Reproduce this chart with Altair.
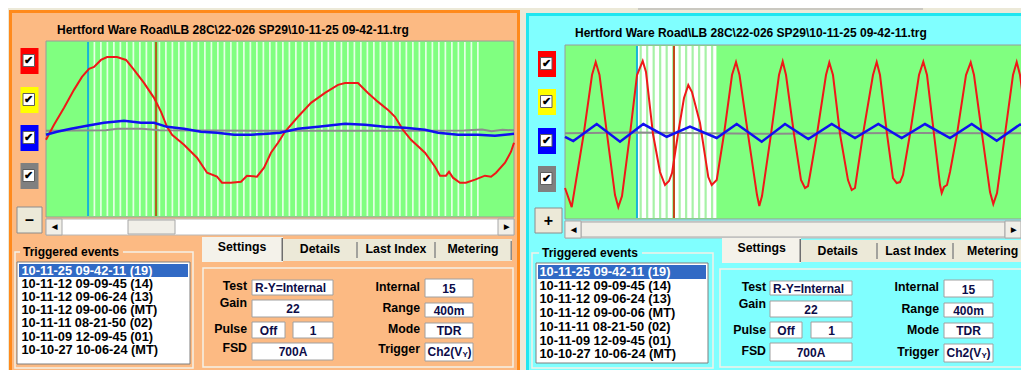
import altair as alt
import pandas as pd

# ------------------------------------------------------------------ data
TITLE = "Hertford Ware Road\\LB 28C\\22-026 SP29\\10-11-25 09-42-11.trg"
EVENTS = ["10-11-25 09-42-11 (19)", "10-11-12 09-09-45 (14)", "10-11-12 09-06-24 (13)",
          "10-11-12 09-00-06 (MT)", "10-11-11 08-21-50 (02)", "10-11-09 12-09-45 (01)",
          "10-10-27 10-06-24 (MT)"]
TABS = ["Settings", "Details", "Last Index", "Metering"]
LABELS_L = ["Test", "Gain", "Pulse", "FSD"]
LABELS_R = ["Internal", "Range", "Mode", "Trigger"]
VALUES_L = ["R-Y=Internal", "22", "Off", "1", "700A"]
VALUES_R = ["15", "400m", "TDR"]
TRIGGER = ["Ch2(V", "Y", ")"]
CHANNEL_COLORS = ["#FF0000", "#FFFF00", "#0000FF", "#808080"]

# left panel (zoomed, time in ms, value in % of full scale)
L_RED_T = [0.0, 0.67, 1.51, 2.34, 3.01, 3.60, 4.02, 4.60, 5.11, 5.94, 6.70, 7.37, 8.20, 9.04,
           9.63, 10.13, 10.55, 11.55, 12.64, 13.48, 14.31, 14.73, 15.48, 16.32, 16.82, 17.66,
           18.25, 18.83, 19.42, 20.00, 21.09, 22.18, 23.35, 24.44, 25.03, 26.11, 26.95, 27.79,
           28.63, 29.21, 29.88, 30.55, 31.72, 32.56, 32.98, 33.48, 33.73, 34.06, 34.65, 35.15,
           35.91, 36.74, 37.25, 37.67, 38.42, 38.92, 39.17]
L_RED_V = [-10, 6.7, 25.6, 45.6, 60, 68.9, 71.1, 78.9, 82.2, 82.2, 78.9, 67.8, 53.3, 36.7,
           21.1, 4.4, -4.4, -15.6, -30, -46.7, -51.1, -57.8, -57.8, -56.7, -50, -51.1,
           -41.1, -24.4, -13.3, -1.1, 15.6, 31.1, 42.2, 51.1, 53.3, 53.3, 42.2, 32.2,
           23.3, 15.6, 1.1, -10, -24.4, -40, -50, -50, -45.6, -52.2, -57.8, -57.8,
           -54.4, -50, -51.1, -46.7, -35.6, -23.3, -13.3]
L_BLUE_T = [0.0, 0.92, 2.09, 3.43, 4.85, 6.53, 7.95, 9.04, 10.13, 11.55, 12.97, 14.31, 15.74,
            17.16, 18.50, 19.59, 21.09, 22.77, 25.03, 26.70, 28.37, 30.05, 31.72, 32.81,
            34.48, 36.16, 37.58, 39.17]
L_BLUE_V = [-4.4, -1.1, 2.2, 5.6, 8.9, 11.1, 8.9, 8.9, 4.4, 2.2, -1.1, -2.2, -4.4,
            -4.4, -3.3, -2.2, 2.2, 4.4, 7.8, 6.7, 4.4, 3.3, 1.1, -2.2,
            -4.4, -4.4, -5.6, -3.3]
L_GRAY_T = [0.0, 5.0, 6.0, 8.0, 9.5, 20.0, 30.0, 35.0, 36.5, 37.3, 38.2, 39.17]
L_GRAY_V = [0.0, 0.5, 2.2, 2.2, 0.5, 0.0, 0.0, 0.3, 1.5, -0.5, 1.2, 0.5]
L_CURSORS = [3.52, 9.21]

# right panel (full record)
R_RED_T = [0, 2.87, 8.00, 11.56, 13.14, 14.77, 17.98, 21.40, 22.81, 24.40, 27.82, 30.82, 33.26,
           34.67, 37.66, 40.66, 42.80, 44.51, 45.80, 48.36, 50.93, 52.77, 54.35, 57.78, 61.33,
           62.79, 64.93, 68.05, 71.48, 73.19, 74.69, 78.32, 82.18, 83.16, 84.32, 88.17, 91.59,
           93.18, 94.59, 98.01, 101.01, 102.72, 104.00, 104.86, 107.86, 111.71, 113.12, 114.70,
           117.70, 121.12, 122.71, 124.12, 127.54, 131.82, 133.41, 134.82, 137.82, 140.38,
           141.97, 143.38, 144.66, 147.66, 151.51, 153.35, 154.94, 157.93, 160.50, 161.23,
           162.21, 163.50, 164.78, 167.78, 171.63, 173.64, 175.05, 178.48, 181.90, 183.31,
           184.90, 188.32, 191.74, 193.33, 194.74, 197.31, 198.59]
R_RED_V = [-61.9, -83.5, -0.8, 66.0, 80.7, 66.0, -0.8, -69.9, -83.5, -71.0, -0.8, 66.0, 81.9,
           69.4, -0.8, -43.8, -58.5, -54.0, -45.0, -0.8, 40.0, 54.7, 46.8, 11.7, -49.5,
           -58.5, -52.9, -0.8, 66.0, 80.7, 66.0, -0.8, -69.9, -82.3, -71.0, -0.8, 66.0,
           81.3, 66.0, -0.8, -52.9, -61.9, -59.7, -47.2, -0.8, 66.0, 80.2, 66.0,
           -0.8, -52.9, -64.2, -61.9, -0.8, 66.0, 80.7, 66.0, -0.8, -50.6,
           -56.3, -55.2, -47.2, -0.8, 66.0, 81.0, 66.0, -0.8, -58.5, -67.6,
           -60.8, -58.5, -43.8, -0.8, 66.0, 80.4, 66.0, -0.8, -66.5, -80.1,
           -67.6, -0.8, 66.0, 80.7, 66.0, 15.1, -7.6]
R_BLUE_T = [0, 3.55, 13.57, 23.54, 33.51, 43.53, 53.50, 64.93, 73.49, 84.19, 94.16, 104.13,
            114.15, 124.12, 134.09, 144.11, 154.08, 164.78, 174.07, 184.77, 194.74, 198.59]
R_BLUE_V = [-3.9, -8.7, 10.5, -9.5, 10.5, -3.9, 7.5, -5.3, 10.5, -9.5, 10.5, -6.5,
            10.5, -5.3, 10.5, -5.3, 10.5, -5.3, 10.5, -8.4, 10.0, 7.1]
R_GRAY_T = [0, 30, 60, 90, 120, 150, 180, 198.6]
R_GRAY_V = [0.0, 1.0, 0.0, -0.5, 0.0, 0.5, 0.0, 0.0]
R_CURSORS = [30.8, 46.65]

# ------------------------------------------------------------------ layout
OFF = 8
FONT = "Liberation Sans"
BEIGE = "#ECE9D8"
VALUE_COLOR = "#0C0C48"


def P(v):
    return v - OFF


rects = []
texts = []


def R(x0, y0, x1, y1, fill, stroke="transparent", sw=0):
    rects.append({"x": P(x0), "y": P(y0), "x2": P(x1), "y2": P(y1),
                  "fill": fill, "stroke": stroke, "sw": sw})


def T(x, y, s, align="left", size=12, color="#000000"):
    texts.append({"x": P(x), "y": P(y), "text": s, "align": align, "size": size, "color": color})


LEFT = dict(
    frame=(10.5, 11.5, 518.5, 376), fill="#FCBA83", border="#FF8A1C", title=(57, 30),
    plot=(46, 41, 514, 217), cb_x=20.5, cb_y=[48, 87, 125, 163], btn=(17, 207, 42, 233),
    btn_text="\u2013", sb=(46, 219, 514, 235), thumb=(128, 220, 175, 234), sb_end=514,
    grp=(15, 252, 193, 368), grp_lbl=(23, 252), lst=(17, 262, 190, 364), sel=(19, 264, 188, 277),
    ev_x=21.5, ev_y0=270.5, ev_dy=13.2,
    tabs_x=[202, 283, 357, 435, 512], tabs_y=(237, 261), tab_tx=[242, 320, 396, 473],
    tab_ty=[247, 248.5, 248.5, 248.5], frm=(203, 268, 513, 367),
    lab1_x=247, lab1_y=[286, 303, 329, 348],
    fld=[(252, 280, 333, 295), (252, 300, 333, 317), (252, 322, 285, 338), (293, 322, 333, 338),
         (252, 343, 333, 360)],
    fld_txt=[(255, 288, "left"), (293, 309, "center"), (268.5, 330.5, "center"),
             (313, 331, "center"), (293, 352, "center")],
    lab2_x=420, lab2_y=[287, 308, 329, 349], fld2_x=(425, 473),
    fld2_y=[(279, 297), (303, 317), (323, 338), (343, 361)], fld2_ty=[289, 310.5, 330.5, 352],
)
RIGHT = dict(
    frame=(527.5, 14.5, 1040, 385), fill="#80FFFF", border="#1EE6F0", title=(575, 33),
    plot=(565, 45, 1035, 219), cb_x=538, cb_y=[51, 89, 128, 166], btn=(535, 208, 562, 233),
    btn_text="+", sb=(565, 221, 1035, 238), thumb=(581, 222, 1005, 237), sb_end=1021,
    grp=(532, 253, 713, 368), grp_lbl=(542, 253), lst=(536, 263, 708, 363), sel=(538, 265, 706, 279),
    ev_x=539.5, ev_y0=272, ev_dy=13.7,
    tabs_x=[722, 801, 877, 953, 1035], tabs_y=(238, 262), tab_tx=[761.7, 837.7, 915.7, 992.7],
    tab_ty=[248, 250.5, 250.5, 250.5], frm=(720, 269, 1040, 367),
    lab1_x=766, lab1_y=[287, 304, 330, 351],
    fld=[(770, 281, 852, 295), (770, 301, 852, 317), (770, 322, 802, 338), (811, 322, 852, 338),
         (770, 343, 852, 361)],
    fld_txt=[(773, 288.5, "left"), (811, 310, "center"), (786, 330.5, "center"),
             (831.5, 331, "center"), (811, 352.5, "center")],
    lab2_x=939, lab2_y=[287, 309, 330, 352], fld2_x=(944, 993),
    fld2_y=[(280, 297), (303, 317), (323, 338), (344, 362)], fld2_ty=[290, 310.5, 331, 353],
)


def build_panel(g):
    R(*g["frame"], g["fill"], g["border"], 3)
    T(g["title"][0], g["title"][1], TITLE)
    R(*g["plot"], "#80FF80", "#9A9A9A", 1)
    cx = g["cb_x"]
    for yy, col in zip(g["cb_y"], CHANNEL_COLORS):
        R(cx, yy, cx + 18, yy + 26, col)
        R(cx + 2.5, yy + 6.5, cx + 14, yy + 18.5, "#FFFFFF", "#5E5E5E", 1)
        T(cx + 8.2, yy + 12.7, "\u2714", "center", 10.5)
    bx0, by0, bx1, by1 = g["btn"]
    R(bx0, by0, bx1, by1, BEIGE, "#8C8C8C", 1)
    T((bx0 + bx1) / 2, (by0 + by1) / 2, g["btn_text"], "center", 16)
    sx0, sy0, sx1, sy1 = g["sb"]
    se = g["sb_end"]
    R(sx0, sy0, sx1, sy1, "#FFFFFF", "#B8B8B8", 1)
    R(*g["thumb"], "#F1EFE8", "#A8A8A8", 1)
    R(sx0, sy0, sx0 + 16, sy1, "#F1EFE8", "#A8A8A8", 1)
    R(se - 16, sy0, se, sy1, "#F1EFE8", "#A8A8A8", 1)
    T(sx0 + 8, (sy0 + sy1) / 2, "\u25C0", "center", 7)
    T(se - 8, (sy0 + sy1) / 2, "\u25B6", "center", 7)
    # triggered events
    R(*g["grp"], "transparent", "#F4F1E8", 1.5)
    lx, ly = g["grp_lbl"]
    R(lx - 3, ly - 6, lx + 100, ly + 6, g["fill"])
    T(lx, ly, "Triggered events")
    R(*g["lst"], "#FFFFFF", "#7F7F7F", 1)
    R(*g["sel"], "#316AC5")
    for i, ev in enumerate(EVENTS):
        T(g["ev_x"], g["ev_y0"] + i * g["ev_dy"], ev, size=12.8,
          color="#FFFFFF" if i == 0 else "#000000")
    # tabs
    tx = g["tabs_x"]
    ty0, ty1 = g["tabs_y"]
    R(tx[1], ty0 + 2, tx[4], ty1, BEIGE)
    for xx in tx[2:4]:
        R(xx - 0.75, ty0 + 5, xx + 0.75, ty1 - 3, "#8A8A8A")
    R(tx[4] - 1.5, ty0 + 4, tx[4], ty1 - 1, "#8A8A8A")
    R(tx[0], ty0, tx[1], ty1 + 1, "#F4F2EA")
    R(tx[1] - 1.5, ty0 + 1, tx[1], ty1, "#6E6E6E")
    for name, x, y in zip(TABS, g["tab_tx"], g["tab_ty"]):
        T(x, y, name, "center", 12.3)
    # settings page
    R(*g["frm"], "transparent", "#F4F1E8", 1.5)
    for lab, y in zip(LABELS_L, g["lab1_y"]):
        T(g["lab1_x"], y, lab, "right", 12.3)
    for f, (tx_, ty_, al), val in zip(g["fld"], g["fld_txt"], VALUES_L):
        R(*f, "#FFFFFF", "#A0A0A0", 1)
        T(tx_, ty_, val, al, color=VALUE_COLOR)
    for lab, y in zip(LABELS_R, g["lab2_y"]):
        T(g["lab2_x"], y, lab, "right", 12.3)
    fx0, fx1 = g["fld2_x"]
    for i, ((fy0, fy1), ty_) in enumerate(zip(g["fld2_y"], g["fld2_ty"])):
        R(fx0, fy0, fx1, fy1, "#FFFFFF", "#A0A0A0", 1)
        if i < 3:
            T((fx0 + fx1) / 2, ty_, VALUES_R[i], "center", color=VALUE_COLOR)
        else:
            T(fx0 + 2.5, ty_, TRIGGER[0], "left", color=VALUE_COLOR)
            T(fx0 + 37.5, ty_ + 3, TRIGGER[1], "left", 8, color=VALUE_COLOR)
            T(fx0 + 42.5, ty_, TRIGGER[2], "left", color=VALUE_COLOR)


build_panel(LEFT)
build_panel(RIGHT)
R(638, 8.5, 923, 9.5, "#A8A8A8")

rect_layer = alt.Chart(pd.DataFrame(rects)).mark_rect().encode(
    x=alt.X("x:Q", scale=None, axis=None), x2="x2:Q",
    y=alt.Y("y:Q", scale=None, axis=None), y2="y2:Q",
    fill=alt.Fill("fill:N", scale=None, legend=None),
    stroke=alt.Stroke("stroke:N", scale=None, legend=None),
    strokeWidth=alt.StrokeWidth("sw:Q", scale=None, legend=None),
)

text_df = pd.DataFrame(texts)


def text_layer(align):
    return alt.Chart(text_df).transform_filter(alt.datum.align == align).mark_text(
        align=align, baseline="middle", font=FONT, fontWeight="bold"
    ).encode(
        x=alt.X("x:Q", scale=None, axis=None), y=alt.Y("y:Q", scale=None, axis=None),
        text="text:N", color=alt.Color("color:N", scale=None, legend=None),
        size=alt.Size("size:Q", scale=None, legend=None),
    )


def wave_plot(box, xdom, ydom, lines, cursors, cursor_colors, stripes):
    x0, y0, x1, y1 = box
    XS = alt.Scale(domain=xdom, range=[P(x0), P(x1)], nice=False, zero=False)
    YS = alt.Scale(domain=ydom, range=[P(y1), P(y0)], nice=False, zero=False)
    X = alt.X("t:Q", scale=XS, axis=None)
    layers = []
    kind, a, b, step = stripes
    if kind == "white_on_green":
        layers.append(alt.Chart(alt.sequence(a, b, step, as_="t")).mark_rule(
            color="#FFFFFF", strokeWidth=1.7, opacity=0.8).encode(
            x=X, y=alt.value(P(y0) + 1), y2=alt.value(P(y1) - 1)))
    else:
        layers.append(alt.Chart(pd.DataFrame({"t": [a], "t2": [b]})).mark_rect(
            color="#FFFFFF").encode(x=X, x2="t2:Q", y=alt.value(P(y0) + 1), y2=alt.value(P(y1) - 1)))
        layers.append(alt.Chart(alt.sequence(a + step / 2, b, step, as_="t")).mark_rule(
            color="#A6F2A6", strokeWidth=2.2).encode(
            x=X, y=alt.value(P(y0) + 1), y2=alt.value(P(y1) - 1)))
    for tc, col in zip(cursors, cursor_colors):
        layers.append(alt.Chart(pd.DataFrame({"t": [tc]})).mark_rule(
            color=col, strokeWidth=2).encode(x=X, y=alt.value(P(y0) + 1), y2=alt.value(P(y1) - 1)))
    for (tt, vv), col, w in lines:
        layers.append(alt.Chart(pd.DataFrame({"t": tt, "v": vv})).mark_line(
            color=col, strokeWidth=w).encode(x=X, y=alt.Y("v:Q", scale=YS, axis=None)))
    return alt.layer(*layers)


left_plot = wave_plot(
    LEFT["plot"], [0, 39.17], [-96, 100],
    [((L_GRAY_T, L_GRAY_V), "#8C8C8C", 2), ((L_RED_T, L_RED_V), "#F01818", 2),
     ((L_BLUE_T, L_BLUE_V), "#1010F0", 2.5)],
    L_CURSORS, ["#18B4D8", "#B0601C"], ("white_on_green", 4.05, 36.2, 0.544))
right_plot = wave_plot(
    (565, 45, 1029, 219), [0, 198.59], [-97, 100],
    [((R_GRAY_T, R_GRAY_V), "#8C8C8C", 2), ((R_RED_T, R_RED_V), "#F01818", 2),
     ((R_BLUE_T, R_BLUE_V), "#1010F0", 2.5)],
    R_CURSORS, ["#18B4D8", "#C04818"], ("green_on_white", 31.0, 64.8, 2.78))

chart = alt.layer(
    rect_layer, text_layer("left"), text_layer("center"), text_layer("right"),
    left_plot, right_plot,
).resolve_scale(x="independent", y="independent").properties(
    width=1013, height=362, padding=0,
    autosize=alt.AutoSizeParams(type="none"), background=BEIGE,
).configure_view(stroke=None)

chart.save("out.html", embed_options={"renderer": "svg", "actions": False})
